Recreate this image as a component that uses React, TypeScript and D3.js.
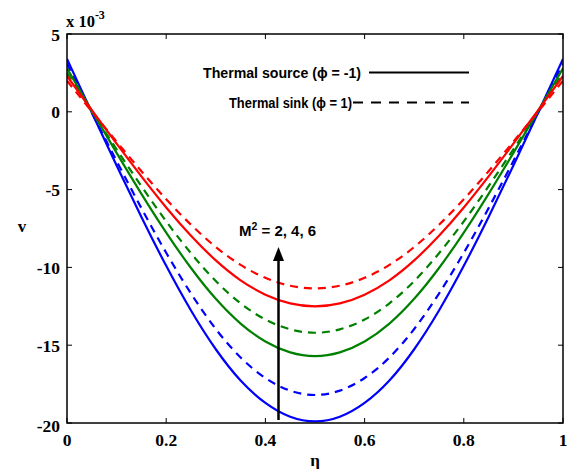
import React from "react";
import * as d3 from "d3";

const eta = [0, 0.05, 0.1, 0.15, 0.2, 0.25, 0.3, 0.35, 0.4, 0.45, 0.5, 0.55, 0.6, 0.65, 0.7, 0.75, 0.8, 0.85, 0.9, 0.95, 1];

const blueSource = [3.4, -0.05, -3.45, -6.76, -9.9, -12.77, -15.26, -17.27, -18.71, -19.6, -19.9, -19.6, -18.71, -17.27, -15.26, -12.77, -9.9, -6.76, -3.45, -0.05, 3.4];
const blueSink = [3.1, -0.05, -3.16, -6.19, -9.06, -11.68, -13.96, -15.79, -17.11, -17.92, -18.2, -17.92, -17.11, -15.79, -13.96, -11.68, -9.06, -6.19, -3.16, -0.05, 3.1];
const greenSource = [2.8, 0.06, -2.64, -5.27, -7.76, -10.04, -12.02, -13.61, -14.76, -15.46, -15.7, -15.46, -14.76, -13.61, -12.02, -10.04, -7.76, -5.27, -2.64, 0.06, 2.8];
const greenSink = [2.5, 0.03, -2.41, -4.78, -7.04, -9.09, -10.88, -12.31, -13.35, -13.98, -14.2, -13.98, -13.35, -12.31, -10.88, -9.09, -7.04, -4.78, -2.41, 0.03, 2.5];
const redSource = [2.3, 0.11, -2.05, -4.15, -6.15, -7.97, -9.55, -10.83, -11.75, -12.31, -12.5, -12.31, -11.75, -10.83, -9.55, -7.97, -6.15, -4.15, -2.05, 0.11, 2.3];
const redSink = [2.0, 0.02, -1.92, -3.82, -5.62, -7.26, -8.69, -9.84, -10.67, -11.18, -11.35, -11.18, -10.67, -9.84, -8.69, -7.26, -5.62, -3.82, -1.92, 0.02, 2.0];

const xTicks = [0, 0.2, 0.4, 0.6, 0.8, 1];
const xTickLabels = ["0", "0.2", "0.4", "0.6", "0.8", "1"];
const yTicks = [-20, -15, -10, -5, 0, 5];

const series = [
  { values: blueSource, color: "#0000ff", dashed: false },
  { values: blueSink, color: "#0000ff", dashed: true },
  { values: greenSource, color: "#008000", dashed: false },
  { values: greenSink, color: "#008000", dashed: true },
  { values: redSource, color: "#ff0000", dashed: false },
  { values: redSink, color: "#ff0000", dashed: true },
];

const L = 67, R = 563, T = 34, B = 423;

export default function App() {
  const x = d3.scaleLinear().domain([0, 1]).range([L, R]);
  const y = d3.scaleLinear().domain([-20, 5]).range([B, T]);
  const line = d3
    .line<number>()
    .x((_, i) => x(eta[i]))
    .y((d) => y(d))
    .curve(d3.curveNatural);
  const serif = "'Liberation Serif', 'Times New Roman', serif";
  const sans = "'Liberation Sans', Arial, sans-serif";
  const tl = 5;
  return (
    <svg width={574} height={469} style={{ position: "absolute", left: 0, top: 0, background: "#fff" }}>
      <rect x={0} y={0} width={574} height={469} fill="#fff" />
      <defs>
        <clipPath id="plot">
          <rect x={L} y={T} width={R - L} height={B - T} />
        </clipPath>
      </defs>
      <g clipPath="url(#plot)">
        {series.map((s, i) => (
          <path
            key={i}
            d={line(s.values) || ""}
            fill="none"
            stroke={s.color}
            strokeWidth={2.2}
            strokeDasharray={s.dashed ? "8,6" : undefined}
          />
        ))}
      </g>
      <rect x={L} y={T} width={R - L} height={B - T} fill="none" stroke="#000" strokeWidth={1.5} />
      {xTicks.map((t, i) => (
        <g key={"xt" + i}>
          <line x1={x(t)} x2={x(t)} y1={B} y2={B - tl} stroke="#000" strokeWidth={1} />
          <line x1={x(t)} x2={x(t)} y1={T} y2={T + tl} stroke="#000" strokeWidth={1} />
          <text x={x(t)} y={446} textAnchor="middle" fontFamily={serif} fontWeight="bold" fontSize={17.5}>
            {xTickLabels[i]}
          </text>
        </g>
      ))}
      {yTicks.map((t, i) => (
        <g key={"yt" + i}>
          <line x1={L} x2={L + tl} y1={y(t)} y2={y(t)} stroke="#000" strokeWidth={1} />
          <line x1={R} x2={R - tl} y1={y(t)} y2={y(t)} stroke="#000" strokeWidth={1} />
          <text x={60} y={y(t) + (t === -20 ? 9 : 6.5)} textAnchor="end" fontFamily={serif} fontWeight="bold" fontSize={17.5}>
            {String(t)}
          </text>
        </g>
      ))}
      <text x={66} y={27} fontFamily={serif} fontWeight="bold" fontSize={16.5}>
        x 10
        <tspan dy={-8} fontSize={12}>-3</tspan>
      </text>
      <text x={22} y={232} textAnchor="middle" fontFamily={serif} fontWeight="bold" fontSize={17}>
        v
      </text>
      <text x={315} y={466} textAnchor="middle" fontFamily={serif} fontWeight="bold" fontSize={17}>
        η
      </text>
      <text x={203} y={77.5} fontFamily={sans} fontWeight="bold" fontSize={14} textLength={158} lengthAdjust="spacingAndGlyphs">
        Thermal source (ϕ = -1)
      </text>
      <line x1={369} x2={469} y1={72.5} y2={72.5} stroke="#000" strokeWidth={2} />
      <text x={229} y={107.5} fontFamily={sans} fontWeight="bold" fontSize={14} textLength={123} lengthAdjust="spacingAndGlyphs">
        Thermal sink (ϕ = 1)
      </text>
      <line x1={353} x2={469} y1={102.5} y2={102.5} stroke="#000" strokeWidth={2} strokeDasharray="10,8" />
      <text x={239} y={236} fontFamily={sans} fontWeight="bold" fontSize={15}>
        M<tspan dy={-6} fontSize={10.5}>2</tspan>
        <tspan dy={6}> = 2, 4, 6</tspan>
      </text>
      <line x1={278.5} x2={278.5} y1={420} y2={256} stroke="#000" strokeWidth={2.5} />
      <path d="M278.5,247 L273,261 L284,261 Z" fill="#000" />
    </svg>
  );
}
